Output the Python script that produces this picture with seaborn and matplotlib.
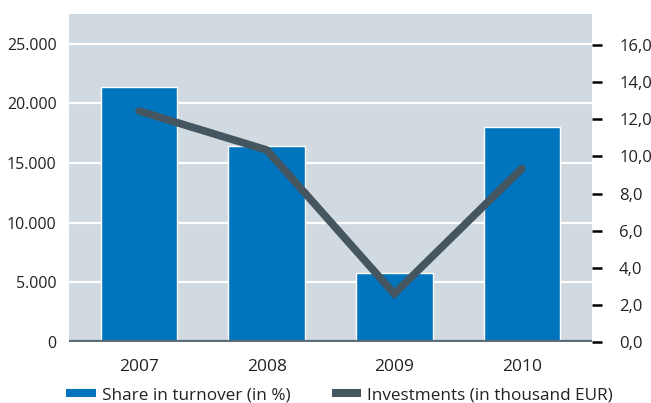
import matplotlib
matplotlib.use("Agg")
import matplotlib.pyplot as plt
from matplotlib.lines import Line2D
import seaborn as sns
import pandas as pd

# Chart data
years = ["2007", "2008", "2009", "2010"]
share_turnover = [21400, 16450, 5800, 18000]
investments = [12.45, 10.35, 2.6, 9.35]

left_ticks = [0, 5000, 10000, 15000, 20000, 25000]
left_labels = ["0", "5.000", "10.000", "15.000", "20.000", "25.000"]
right_ticks = [0, 2, 4, 6, 8, 10, 12, 14, 16]
right_labels = ["0,0", "2,0", "4,0", "6,0", "8,0", "10,0", "12,0", "14,0", "16,0"]

BAR_BLUE = "#0074bd"
LINE_GREY = "#465661"
BASE_GREY = "#5d6d78"
BG = "#d2dae1"
TEXT = "#222222"

sns.set_theme(style="white")
plt.rcParams["font.family"] = ["Open Sans", "DejaVu Sans"]

df = pd.DataFrame({"year": years, "share": share_turnover, "invest": investments})

fig = plt.figure(figsize=(6.51, 4.03), dpi=100)
ax = fig.add_axes([69 / 651, 1 - 342 / 403, (592 - 69) / 651, (342 - 14) / 403])
ax.set_facecolor(BG)

sns.barplot(data=df, x="year", y="share", color=BAR_BLUE, width=0.6,
            saturation=1, ax=ax, zorder=2)
ax.set_xlim(-0.55, 3.55)
ax.set_ylim(0, 27500)
ax.set_yticks(left_ticks)
ax.set_yticklabels(left_labels)
ax.set_xlabel("")
ax.set_ylabel("")
for y in left_ticks[1:]:
    ax.axhline(y, color="white", lw=1.6, zorder=1)
ax.axhline(0, color=BASE_GREY, lw=3.8, zorder=3)
ax.tick_params(axis="y", length=0, pad=9, labelsize=11.5, labelcolor=TEXT)
ax.tick_params(axis="x", length=0, pad=12, labelsize=12.5, labelcolor=TEXT)
for s in ax.spines.values():
    s.set_visible(False)

ax2 = ax.twinx()
sns.lineplot(x=[0, 1, 2, 3], y=df["invest"], ax=ax2, color=LINE_GREY, lw=5.5,
             solid_capstyle="round", solid_joinstyle="miter", zorder=4)
ax2.set_ylim(0, 17.68)
ax2.set_xlim(-0.55, 3.55)
ax2.set_yticks(right_ticks)
ax2.set_yticklabels(right_labels)
ax2.set_ylabel("")
ax2.tick_params(axis="y", direction="out", length=7.5, width=1.8, color="black",
                pad=12, labelsize=12, labelcolor=TEXT)
for s in ax2.spines.values():
    s.set_visible(False)

handles = [
    Line2D([], [], color=BAR_BLUE, lw=5.8, solid_capstyle="butt"),
    Line2D([], [], color=LINE_GREY, lw=5.8, solid_capstyle="butt"),
]
fig.legend(handles, ["Share in turnover (in %)", "Investments (in thousand EUR)"],
           loc="center left", bbox_to_anchor=(66 / 651, 8 / 403), ncol=2,
           frameon=False, fontsize=12.3, handlelength=1.75, handletextpad=0.35,
           columnspacing=2.4, borderpad=0, borderaxespad=0, labelcolor=TEXT)

fig.savefig("out.png", dpi=100)
